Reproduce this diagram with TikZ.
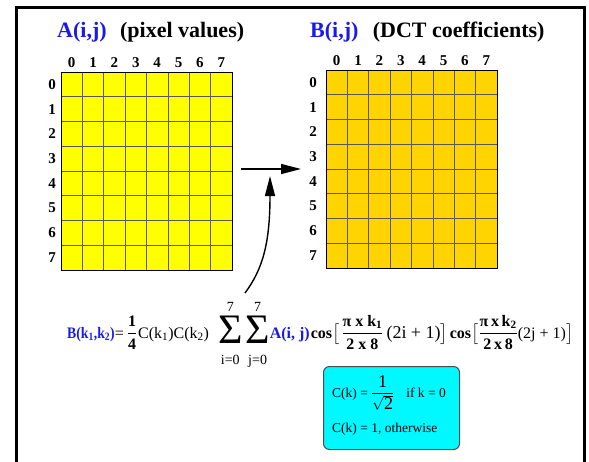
\documentclass[tikz,border=0pt]{standalone}
\usepackage{fontspec}
\setmainfont{Liberation Serif}
\usepackage{amsmath}
\usetikzlibrary{arrows.meta,positioning}

\definecolor{dctblue}{RGB}{25,25,235}
\definecolor{pixelyellow}{RGB}{255,255,0}
\definecolor{coefgold}{RGB}{255,212,0}
\definecolor{boxcyan}{RGB}{0,248,255}

\newcommand{\dctsum}[2]{\mathop{\raisebox{-5pt}{\fontsize{42}{42}\selectfont Σ}}\limits_{\text{\fontsize{14}{14}\selectfont\rule{0pt}{19pt}#1}}^{\text{\fontsize{14}{14}\selectfont\rule[-2pt]{0pt}{2pt}#2}}}

\begin{document}
\begin{tikzpicture}[
    x=1pt, y=-1pt,
    >={Triangle[length=20pt,width=10pt]},
    title/.style={
        font=\fontsize{22}{24}\selectfont\bfseries,
        inner sep=0pt
    },
    idx/.style={
        font=\fontsize{15}{16}\selectfont\bfseries,
        inner sep=0pt
    },
    gridbox/.style={
        rectangle,
        draw=black,
        line width=0.9pt,
        inner sep=0pt,
        minimum width=171pt,
        minimum height=198pt,
        anchor=north west
    },
    cell/.style={
        draw=black!65,
        line width=0.7pt
    },
    edge/.style={
        ->,
        line width=1.4pt
    },
    formula/.style={
        font=\fontsize{16}{17}\selectfont,
        inner sep=0pt,
        anchor=base west
    },
    ckbox/.style={
        rectangle,
        rounded corners=6pt,
        draw=black!70,
        line width=1pt,
        fill=boxcyan,
        minimum width=136pt,
        minimum height=83pt,
        anchor=north west
    },
    cktext/.style={
        font=\fontsize{13.5}{15}\selectfont,
        inner sep=0pt,
        anchor=base west
    }
]
\useasboundingbox (0,0) rectangle (589,461);

% Frame
\draw[line width=3pt] (16,470) -- (16,7) -- (584.5,7) -- (584.5,470);

% Titles
\node[title, text=dctblue, anchor=base west] (titleA) at (57,37) {A(i,j)};
\node[title, right=13pt of titleA] (captionA) {(pixel values)};
\node[title, text=dctblue, anchor=base west] (titleB) at (310,37) {B(i,j)};
\node[title, right=14pt of titleB] (captionB) {(DCT coefficients)};

% Pixel grid
\node[gridbox, fill=pixelyellow] (gridA) at (61,72) {};
\foreach \i in {1,...,7} {
    \draw[cell] (61+21.375*\i,72.5) -- (61+21.375*\i,269.5);
    \draw[cell] (61.5,72+24.75*\i) -- (231.5,72+24.75*\i);
}
\foreach \i in {0,...,7} {
    \node[idx] (colA\i) at (61+21.375*\i+10.7,63) {\i};
    \node[idx] (rowA\i) at (52,72+24.75*\i+12.4) {\i};
}

% Coefficient grid
\node[gridbox, fill=coefgold] (gridB) at (326,70) {};
\foreach \i in {1,...,7} {
    \draw[cell] (326+21.375*\i,70.5) -- (326+21.375*\i,267.5);
    \draw[cell] (326.5,70+24.75*\i) -- (496.5,70+24.75*\i);
}
\foreach \i in {0,...,7} {
    \node[idx] (colB\i) at (326+21.375*\i+10.7,61) {\i};
    \node[idx] (rowB\i) at (313,70+24.75*\i+12.4) {\i};
}

% Arrows
\coordinate (hstart) at (241,169);
\coordinate (hend) at (301,169);
\draw[edge] (hstart) -- (hend);

\coordinate (cstart) at (245,293);
\coordinate (cend) at (270,176);
\draw[edge] (cstart) .. controls (262,270) and (270,245) .. (cend);

% Formula
\node[formula] (dctformula) at (67,338) {%
    \scalebox{0.86}[1]{\textcolor{dctblue}{\bfseries B(k\textsubscript{1},k\textsubscript{2})}}=\hspace{3pt}%
    $\dfrac{\textbf{1}}{\textbf{4}}$\hspace{1pt}C(k\textsubscript{1})C(k\textsubscript{2})\hspace{9pt}%
    $\displaystyle\dctsum{i=0}{7}\dctsum{j=0}{7}$%
    \textcolor{dctblue}{\bfseries A(i, j)}\hspace{1pt}\textbf{cos}%
    $\displaystyle\bigl[\hspace{2pt}\dfrac{\textbf{π x k\textsubscript{1}}}{\textbf{2 x 8}}\text{\fontsize{18}{18}\selectfont\,(2i + 1)}\bigr]$\hspace{2pt}%
    \textbf{cos}%
    $\displaystyle\bigl[\dfrac{\textbf{π\,x\,k\textsubscript{2}}}{\textbf{2\,x\,8}}\text{\fontsize{16}{16}\selectfont(2j + 1)}\bigr]$};

% C(k) box
\node[ckbox] (ckbox) at (323,366) {};
\node[cktext] (ckzero) at (332,397) {C(k) =\hspace{3pt}$\dfrac{\text{\fontsize{18}{18}\selectfont 1}}{\rule{0pt}{14pt}\sqrt{\text{\fontsize{18}{18}\selectfont 2}}}$\hspace{12pt}if k = 0};
\node[cktext] (ckone) at (332,432) {C(k) = 1, otherwise};

\end{tikzpicture}
\end{document}
